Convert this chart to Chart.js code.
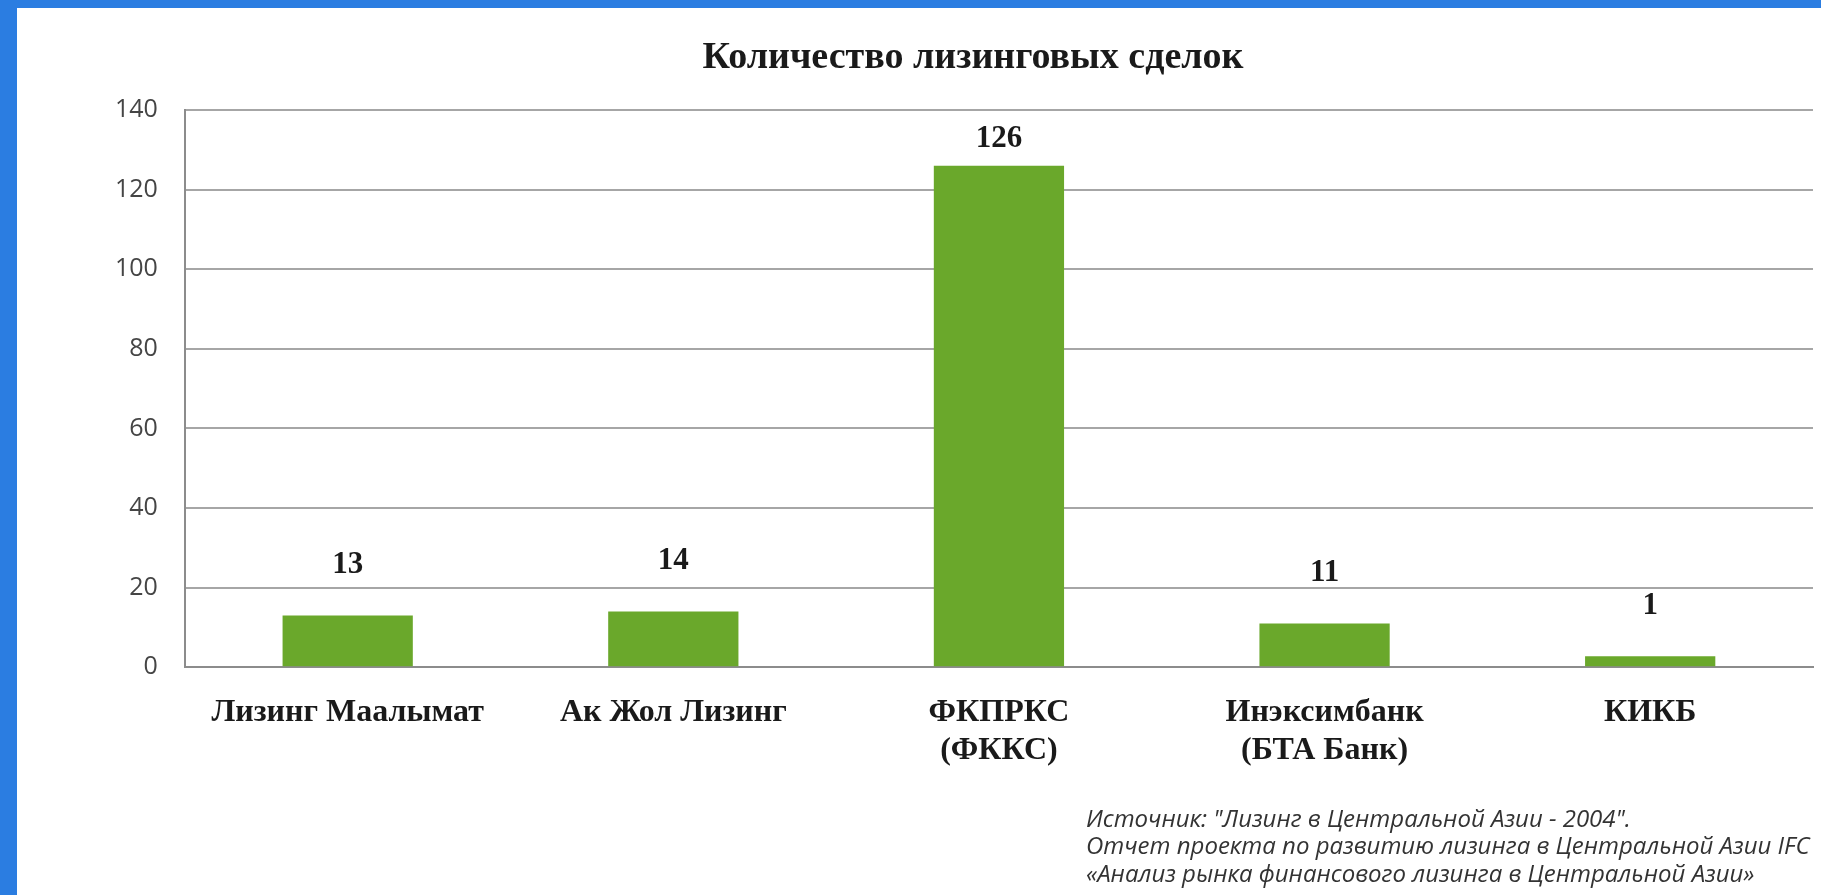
<!DOCTYPE html>
<html lang="ru">
<head>
<meta charset="UTF-8">
<title>Количество лизинговых сделок</title>
<script src="https://cdn.jsdelivr.net/npm/chart.js@4.4.1/dist/chart.umd.min.js"></script>
<style>
    body {
        margin: 0;
        background: #2b7de1;
        overflow: hidden;
    }
    .chart-box {
        position: absolute;
        left: 17px;
        top: 8px;
        width: 1804px;
        height: 887px;
        background: #ffffff;
    }
</style>
</head>
<body>
<div class="chart-box">
    <canvas id="deals-chart"></canvas>
</div>
<script>
    const chartTitle = 'Количество лизинговых сделок';
    const companies = [
        ['Лизинг Маалымат'],
        ['Ак Жол Лизинг'],
        ['ФКПРКС', '(ФККС)'],
        ['Инэксимбанк', '(БТА Банк)'],
        ['КИКБ']
    ];
    const dealsCount = [13, 14, 126, 11, 1];
    const yTicks = [0, 20, 40, 60, 80, 100, 120, 140];
    const sourceLines = [
        'Источник: "Лизинг в Центральной Азии - 2004".',
        'Отчет проекта по развитию лизинга в Центральной Азии IFC',
        '«Анализ рынка финансового лизинга в Центральной Азии»'
    ];

    const serif = '"Liberation Serif", "Times New Roman", serif';

    // title on top, value labels over bars, source note at the bottom
    const chartNotes = {
        id: 'chartNotes',
        afterDraw(chart) {
            const ctx = chart.ctx;
            const area = chart.chartArea;
            ctx.save();
            ctx.fillStyle = '#1a1a1a';
            ctx.textAlign = 'center';
            ctx.textBaseline = 'middle';
            ctx.font = 'bold 38px ' + serif;
            ctx.fillText(chartTitle, 956, 50);

            ctx.font = 'bold 31px ' + serif;
            chart.getDatasetMeta(0).data.forEach((bar, i) => {
                const y = Math.max(bar.y - 50, area.top + 29);
                ctx.fillText(String(dealsCount[i]), bar.x, y);
            });

            ctx.textAlign = 'left';
            ctx.fillStyle = '#333333';
            ctx.font = 'italic 24px "Open Sans", sans-serif';
            sourceLines.forEach((line, i) => {
                ctx.fillText(line, 1069, 812 + i * 27.5);
            });
            ctx.restore();
        }
    };

    new Chart(document.getElementById('deals-chart'), {
        type: 'bar',
        data: {
            labels: companies,
            datasets: [{
                data: dealsCount,
                backgroundColor: '#6aa82b',
                barPercentage: 0.8,
                categoryPercentage: 0.5,
                minBarLength: 11
            }]
        },
        options: {
            responsive: true,
            maintainAspectRatio: false,
            animation: false,
            layout: {
                padding: {top: 102, right: 8, bottom: 99, left: 71}
            },
            plugins: {
                legend: {display: false},
                tooltip: {enabled: false},
                title: {display: false}
            },
            scales: {
                x: {
                    grid: {display: false, drawTicks: false},
                    border: {display: true, color: '#8c8c8c', width: 2},
                    ticks: {
                        padding: 26,
                        color: '#1a1a1a',
                        font: {family: serif, size: 32, weight: 'bold', lineHeight: 1.2},
                        maxRotation: 0
                    }
                },
                y: {
                    min: 0,
                    max: 140,
                    afterBuildTicks(scale) {
                        scale.ticks = yTicks.map(v => ({value: v}));
                    },
                    grid: {color: '#a6a6a6', lineWidth: 2, drawTicks: false},
                    border: {display: true, color: '#8c8c8c', width: 2},
                    ticks: {
                        padding: 27,
                        color: '#454545',
                        font: {family: '"Open Sans", sans-serif', size: 25}
                    }
                }
            }
        },
        plugins: [chartNotes]
    });
</script>
</body>
</html>
